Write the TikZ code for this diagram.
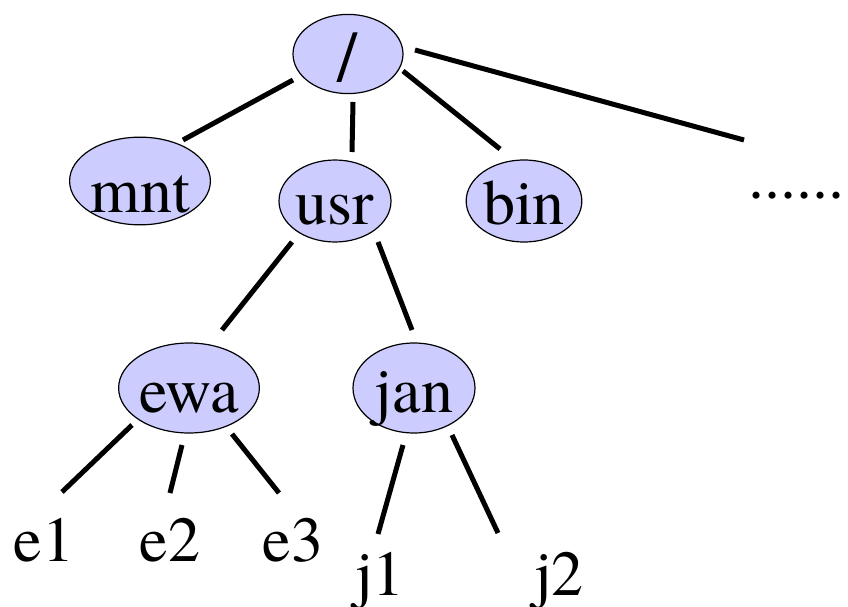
\documentclass[tikz,border=0pt]{standalone}
\usepackage{fontspec}
\IfFontExistsTF{TeX Gyre Termes}{\newfontfamily\treefont{TeX Gyre Termes}}{\newfontfamily\treefont{Latin Modern Roman}}
\usetikzlibrary{shapes.geometric,calc}
\definecolor{nodefill}{RGB}{204,204,255}
\tikzset{
  dirnode/.style={ellipse, draw=black, line width=1.2pt, fill=nodefill, inner sep=0pt, text depth=0pt, font=\treefont\fontsize{64}{70}\selectfont},
  leaf/.style={anchor=base, inner sep=0pt, font=\treefont\fontsize{64}{70}\selectfont},
  edge/.style={line width=5pt, black}
}
\begin{document}
\begin{tikzpicture}[x=1pt,y=-1pt]
\useasboundingbox (0,0) rectangle (848,607);
% directory nodes
\node[dirnode, minimum width=110, minimum height=68, text height=56pt, font=\treefont\fontsize{72}{76}\selectfont] (root) at (348,54) {/};
\node[dirnode, minimum width=112, minimum height=82, text height=62pt] (mnt) at (140,181) {mnt};
\node[dirnode, minimum width=112, minimum height=82, text height=46pt] (usr) at (335,201) {usr};
\node[dirnode, minimum width=98, minimum height=82, text height=46pt] (bin) at (524,201) {bin};
\node[dirnode, minimum width=110, minimum height=90, text height=48pt] (ewa) at (189,388) {ewa};
\node[dirnode, minimum width=122, minimum height=90, text height=48pt] (jan) at (414,388) {jan};
% leaves
\node[leaf] (dots) at (796,198) {......};
\node[leaf] (e1) at (44,561) {e1};
\node[leaf] (e2) at (170,561) {e2};
\node[leaf] (e3) at (293,561) {e3};
\node[leaf] (j1) at (380,595) {j1};
\node[leaf] (j2) at (559,595) {j2};
% connectors
\draw[edge] ($(root.center)+(-55,26)$) -- ($(mnt.center)+(43,-41)$);
\draw[edge] ($(root.center)+(5,48)$) -- ($(usr.center)+(17,-49)$);
\draw[edge] ($(root.center)+(55,17)$) -- ($(bin.center)+(-24,-52)$);
\draw[edge] ($(root.center)+(67,-4)$) -- ($(dots.base)+(-52,-58)$);
\draw[edge] ($(usr.center)+(-43,41)$) -- ($(ewa.center)+(33,-58)$);
\draw[edge] ($(usr.center)+(43,41)$) -- ($(jan.center)+(-2,-58)$);
\draw[edge] ($(ewa.center)+(-57,37)$) -- ($(e1.base)+(18,-69)$);
\draw[edge] ($(ewa.center)+(-7,57)$) -- ($(e2.base)+(0,-68)$);
\draw[edge] ($(ewa.center)+(43,46)$) -- ($(e3.base)+(-14,-68)$);
\draw[edge] ($(jan.center)+(-11,57)$) -- ($(j1.base)+(-2,-61)$);
\draw[edge] ($(jan.center)+(38,47)$) -- ($(j2.base)+(-61,-62)$);
\end{tikzpicture}
\end{document}
